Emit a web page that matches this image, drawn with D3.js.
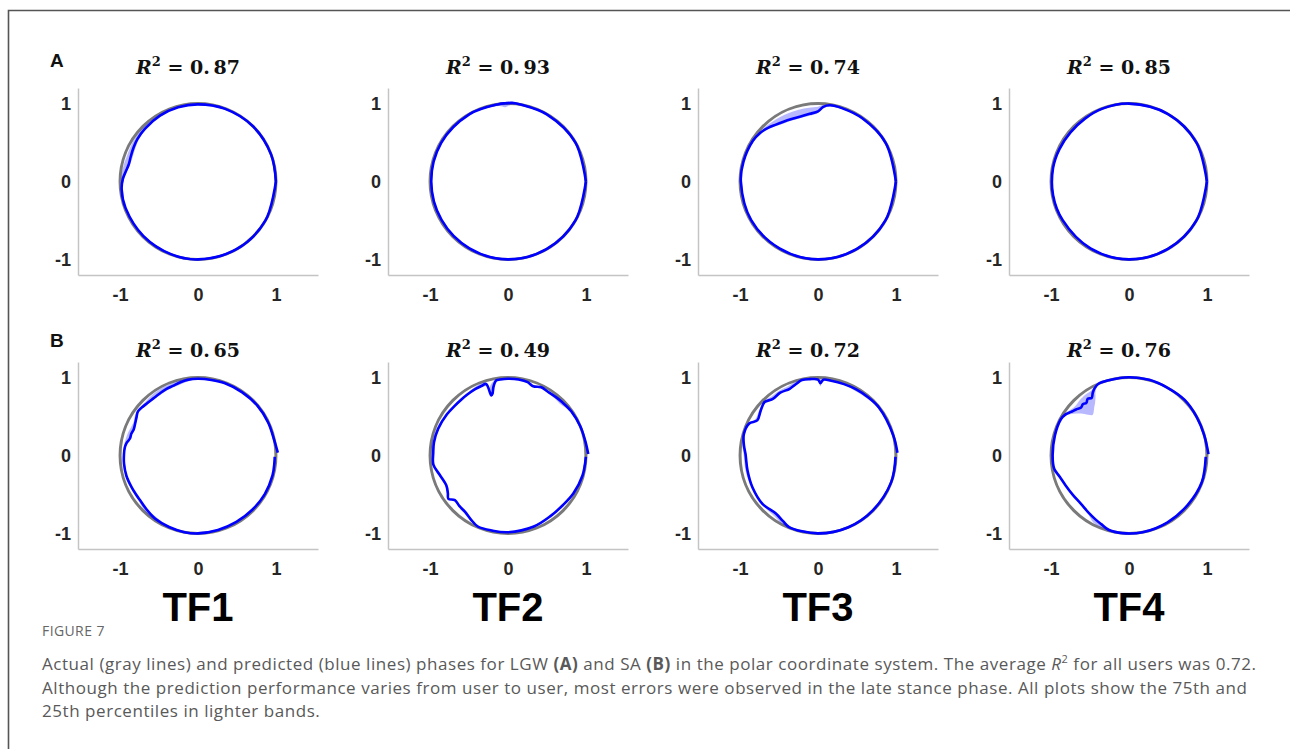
<!DOCTYPE html>
<html>
<head>
<meta charset="utf-8">
<script src="https://cdn.jsdelivr.net/npm/d3@7"></script>
<style>
  body { margin: 0; background: #fff; }
  svg { display: block; }
</style>
</head>
<body>
<svg id="fig" width="1290" height="749"></svg>
<script>
// Predicted gait phase in polar form.
// Each row: [phase angle (deg), median radius, 25th percentile radius, 75th percentile radius]

// LGW (row A)
const lgwTF1 = [
  [0, 1.00, 0.99, 1.01], [20, 1.00, 0.99, 1.01], [45, 1.00, 0.99, 1.01],
  [70, 0.995, 0.985, 1.005], [90, 0.99, 0.98, 1.00], [105, 0.985, 0.975, 0.995],
  [120, 0.975, 0.965, 0.99], [135, 0.96, 0.95, 0.985], [145, 0.95, 0.93, 0.98],
  [152, 0.935, 0.91, 0.975], [160, 0.92, 0.895, 0.97], [166, 0.915, 0.90, 0.975],
  [172, 0.935, 0.92, 0.98], [178, 0.965, 0.95, 0.985], [186, 0.985, 0.975, 0.995],
  [200, 0.99, 0.98, 1.00], [225, 0.99, 0.98, 1.00], [250, 0.995, 0.985, 1.005],
  [270, 1.00, 0.99, 1.01], [300, 1.00, 0.99, 1.01], [330, 1.00, 0.99, 1.01],
  [360, 1.00, 0.99, 1.01]
];
const lgwTF2 = [
  [0, 1.00, 0.99, 1.01], [30, 1.00, 0.99, 1.01], [60, 0.995, 0.985, 1.005],
  [80, 1.00, 0.99, 1.01], [87, 1.01, 0.99, 1.015], [92, 1.005, 0.955, 1.01],
  [97, 1.00, 0.975, 1.005], [120, 0.995, 0.985, 1.005], [150, 0.99, 0.98, 1.00],
  [180, 0.985, 0.975, 0.995], [210, 0.985, 0.975, 0.995], [240, 0.99, 0.98, 1.00],
  [270, 1.00, 0.99, 1.01], [300, 1.00, 0.99, 1.01], [330, 1.00, 0.99, 1.01],
  [360, 1.00, 0.99, 1.01]
];
const lgwTF3 = [
  [0, 1.00, 0.99, 1.01], [30, 1.00, 0.99, 1.01], [55, 0.99, 0.98, 1.00],
  [72, 0.99, 0.98, 1.00], [81, 0.99, 0.975, 1.00], [86, 0.96, 0.94, 0.985],
  [90, 0.90, 0.88, 0.96], [97, 0.875, 0.85, 0.955], [105, 0.865, 0.845, 0.955],
  [113, 0.87, 0.85, 0.955], [120, 0.885, 0.865, 0.96], [127, 0.91, 0.89, 0.965],
  [133, 0.94, 0.925, 0.975], [140, 0.97, 0.955, 0.985], [148, 0.985, 0.975, 0.995],
  [165, 0.99, 0.98, 1.00], [180, 0.99, 0.98, 1.00], [210, 0.99, 0.98, 1.00],
  [240, 0.99, 0.98, 1.00], [270, 1.00, 0.99, 1.01], [300, 1.00, 0.99, 1.01],
  [330, 1.00, 0.99, 1.01], [360, 1.00, 0.99, 1.01]
];
const lgwTF4 = [
  [0, 1.00, 0.99, 1.01], [30, 1.00, 0.99, 1.01], [60, 1.00, 0.99, 1.01],
  [90, 1.00, 0.99, 1.01], [110, 0.995, 0.985, 1.005], [125, 0.985, 0.975, 0.995],
  [140, 0.98, 0.97, 0.99], [155, 0.985, 0.975, 0.995], [170, 0.99, 0.98, 1.00],
  [190, 0.99, 0.98, 1.00], [210, 0.985, 0.975, 0.995], [240, 0.99, 0.98, 1.00],
  [270, 1.00, 0.99, 1.01], [300, 1.00, 0.99, 1.01], [330, 1.00, 0.99, 1.01],
  [360, 1.00, 0.99, 1.01]
];

// SA (row B)
const saTF1 = [
  [2, 1.025, 1.015, 1.03], [10, 1.00, 0.99, 1.01], [25, 0.995, 0.985, 1.005],
  [40, 0.995, 0.985, 1.005], [55, 0.99, 0.98, 1.00], [70, 0.99, 0.98, 1.00],
  [80, 0.985, 0.975, 0.995], [90, 0.985, 0.975, 0.995], [98, 0.98, 0.96, 0.99],
  [104, 0.965, 0.94, 0.99], [110, 0.95, 0.93, 0.985], [116, 0.945, 0.925, 0.985],
  [122, 0.935, 0.915, 0.98], [128, 0.93, 0.915, 0.975], [134, 0.935, 0.92, 0.965],
  [140, 0.95, 0.935, 0.965], [144, 0.955, 0.94, 0.965], [148, 0.93, 0.92, 0.955],
  [153, 0.905, 0.895, 0.93], [158, 0.89, 0.88, 0.935], [162, 0.90, 0.89, 0.945],
  [166, 0.90, 0.89, 0.95], [170, 0.93, 0.92, 0.955], [174, 0.945, 0.935, 0.96],
  [179, 0.95, 0.94, 0.96], [186, 0.955, 0.945, 0.965], [196, 0.955, 0.945, 0.965],
  [205, 0.945, 0.935, 0.955], [212, 0.94, 0.93, 0.955], [218, 0.94, 0.93, 0.96],
  [226, 0.955, 0.945, 0.985], [236, 0.98, 0.955, 1.00], [248, 0.99, 0.98, 1.00],
  [260, 1.00, 0.99, 1.01], [270, 1.00, 0.99, 1.01], [285, 0.99, 0.98, 1.00],
  [300, 0.985, 0.975, 0.995], [315, 0.985, 0.975, 0.995], [330, 0.99, 0.98, 1.00],
  [345, 0.99, 0.98, 1.00], [354, 0.985, 0.975, 0.995], [359, 0.985, 0.975, 0.995]
];
const saTF2 = [
  [1, 1.03, 1.02, 1.035], [10, 1.01, 1.00, 1.02], [22, 1.00, 0.99, 1.01],
  [35, 0.99, 0.98, 1.00], [45, 0.975, 0.94, 0.985], [50, 0.97, 0.945, 0.98],
  [58, 0.965, 0.955, 0.975], [64, 0.975, 0.965, 0.985], [70, 0.945, 0.935, 0.96],
  [75, 0.975, 0.965, 0.985], [82, 0.985, 0.975, 0.995], [90, 0.985, 0.97, 0.995],
  [96, 0.98, 0.97, 0.99], [99, 0.975, 0.965, 0.985], [102, 0.90, 0.85, 0.96],
  [104, 0.82, 0.80, 0.93], [105.5, 0.80, 0.79, 0.90], [107, 0.96, 0.93, 0.98],
  [111, 0.955, 0.94, 0.985], [116, 0.95, 0.94, 0.975], [124, 0.94, 0.93, 0.955],
  [130, 0.935, 0.925, 0.95], [137, 0.935, 0.925, 0.95], [146, 0.945, 0.935, 0.96],
  [159, 0.96, 0.95, 0.98], [170, 0.965, 0.955, 0.99], [178, 0.96, 0.95, 0.99],
  [187, 0.965, 0.955, 0.975], [196, 0.91, 0.90, 0.925], [206, 0.88, 0.87, 0.895],
  [212, 0.91, 0.90, 0.925], [216, 0.945, 0.935, 0.955], [220, 0.89, 0.88, 0.90],
  [226, 0.90, 0.89, 0.915], [233, 0.91, 0.90, 0.93], [240, 0.95, 0.94, 0.965],
  [247, 0.99, 0.98, 1.00], [258, 0.985, 0.975, 0.995], [270, 0.985, 0.975, 0.995],
  [290, 0.97, 0.96, 0.98], [305, 0.95, 0.94, 0.96], [318, 0.95, 0.94, 0.96],
  [330, 0.97, 0.96, 0.98], [345, 0.99, 0.98, 1.00], [359, 1.00, 0.99, 1.01]
];
const saTF3 = [
  [2, 1.02, 1.01, 1.025], [15, 1.00, 0.99, 1.01], [38, 0.995, 0.985, 1.005],
  [50, 0.985, 0.965, 0.995], [60, 0.98, 0.955, 0.99], [70, 0.975, 0.965, 0.985],
  [80, 0.975, 0.965, 0.985], [86, 0.975, 0.965, 0.985], [88, 0.93, 0.89, 0.98],
  [90, 0.975, 0.96, 0.985], [96, 0.985, 0.975, 0.995], [102, 0.99, 0.98, 1.00],
  [107, 0.96, 0.95, 0.985], [113, 0.93, 0.92, 0.97], [121, 0.94, 0.93, 0.97],
  [129, 0.93, 0.915, 0.965], [135, 0.97, 0.955, 0.98], [142, 0.934, 0.92, 0.955],
  [150, 0.90, 0.89, 0.93], [155, 0.974, 0.96, 0.985], [164, 0.99, 0.98, 1.00],
  [172, 0.96, 0.95, 0.98], [179, 0.93, 0.92, 0.955], [192, 0.925, 0.915, 0.95],
  [206, 0.935, 0.925, 0.95], [221, 0.945, 0.935, 0.955], [234, 0.92, 0.91, 0.96],
  [242, 0.955, 0.94, 0.99], [248, 0.99, 0.975, 1.00], [270, 1.00, 0.99, 1.01],
  [293, 1.00, 0.99, 1.01], [315, 0.995, 0.985, 1.005], [340, 1.00, 0.99, 1.01],
  [359, 0.995, 0.985, 1.005]
];
const saTF4 = [
  [1, 1.02, 1.01, 1.025], [15, 1.00, 0.99, 1.01], [30, 1.00, 0.99, 1.01],
  [45, 1.01, 1.00, 1.015], [60, 1.00, 0.99, 1.01], [75, 1.005, 0.995, 1.01],
  [90, 1.005, 0.995, 1.01], [105, 1.00, 0.99, 1.01], [113, 1.00, 0.99, 1.01],
  [117, 0.97, 0.94, 0.99], [120, 0.93, 0.86, 0.965], [123, 0.88, 0.80, 0.96],
  [126, 0.90, 0.76, 0.96], [129, 0.87, 0.72, 0.955], [132, 0.885, 0.70, 0.95],
  [135, 0.87, 0.74, 0.94], [139, 0.90, 0.82, 0.94], [143, 0.93, 0.89, 0.96],
  [147, 0.97, 0.95, 0.985], [152, 0.99, 0.98, 1.00], [165, 0.985, 0.975, 0.995],
  [180, 0.98, 0.97, 0.995], [190, 0.975, 0.965, 0.985], [197, 0.93, 0.92, 0.94],
  [205, 0.90, 0.89, 0.91], [215, 0.88, 0.87, 0.89], [225, 0.875, 0.865, 0.885],
  [235, 0.90, 0.89, 0.915], [242, 0.925, 0.915, 0.975], [248, 0.95, 0.94, 0.99],
  [255, 0.99, 0.98, 1.00], [265, 1.00, 0.99, 1.01], [280, 1.00, 0.99, 1.01],
  [300, 0.99, 0.98, 1.00], [320, 0.985, 0.975, 0.995], [340, 0.995, 0.985, 1.005],
  [359, 0.985, 0.975, 0.995]
];

const rowLetters = ["A", "B"];
const tfNames = ["TF1", "TF2", "TF3", "TF4"];
const r2LGW = ["0.87", "0.93", "0.74", "0.85"];
const r2SA = ["0.65", "0.49", "0.72", "0.76"];
const axisTicks = [-1, 0, 1];
const actualRadius = 1; // actual phase lies on the unit circle

const rows = [
  { letter: rowLetters[0], r2: r2LGW, series: [lgwTF1, lgwTF2, lgwTF3, lgwTF4] },
  { letter: rowLetters[1], r2: r2SA, series: [saTF1, saTF2, saTF3, saTF4] }
];

const svg = d3.select("#fig");

// outer frame
svg.append("path")
  .attr("d", "M1291,10.5 H8.5 V750")
  .attr("fill", "none")
  .attr("stroke", "#555")
  .attr("stroke-width", 1.6);

const panelW = 240, panelH = 187;
const colLeft = [78, 388, 698, 1009];
const rowTop = [88, 362];
const titleBase = [74, 357];
const letterBase = [67, 347];

const x = d3.scaleLinear().domain([-1.54, 1.54]).range([0, panelW]);
const y = d3.scaleLinear().domain([-1.2, 1.2]).range([panelH, 0]);
const rad = d => d * Math.PI / 180;

const medianLine = d3.line()
  .x(d => x(d[1] * Math.cos(rad(d[0]))))
  .y(d => y(d[1] * Math.sin(rad(d[0]))))
  .curve(d3.curveCatmullRom.alpha(0.5));

const band = d3.area()
  .x0(d => x(d[2] * Math.cos(rad(d[0]))))
  .y0(d => y(d[2] * Math.sin(rad(d[0]))))
  .x1(d => x(d[3] * Math.cos(rad(d[0]))))
  .y1(d => y(d[3] * Math.sin(rad(d[0]))))
  .curve(d3.curveCatmullRom.alpha(0.5));

rows.forEach((row, ri) => {
  svg.append("text")
    .attr("x", 50).attr("y", letterBase[ri])
    .style("font-family", "'Liberation Sans', Arial, sans-serif")
    .style("font-weight", "bold").style("font-size", "19px")
    .attr("fill", "#111")
    .text(row.letter);

  row.series.forEach((data, ci) => {
    const g = svg.append("g").attr("transform", `translate(${colLeft[ci]},${rowTop[ri]})`);

    // axes
    const xa = g.append("g").attr("transform", `translate(0,${panelH})`)
      .call(d3.axisBottom(x).tickValues(axisTicks).tickSize(0).tickPadding(13).tickFormat(d3.format("d")));
    const ya = g.append("g")
      .call(d3.axisLeft(y).tickValues(axisTicks).tickSize(0).tickPadding(7).tickFormat(d3.format("d")));
    [xa, ya].forEach(a => {
      a.select(".domain").attr("stroke", "#c4c4c4").attr("stroke-width", 1.5);
      a.selectAll("text")
        .style("font-family", "'Liberation Sans', Arial, sans-serif")
        .style("font-weight", "bold").style("font-size", "18px").style("fill", "#262626")
        .text(d => d < 0 ? "-" + Math.abs(d) : d);
    });

    // actual phase (gray circle)
    g.append("circle")
      .attr("cx", x(0)).attr("cy", y(0))
      .attr("r", x(actualRadius) - x(0))
      .attr("fill", "none").attr("stroke", "#7a7a7a").attr("stroke-width", 3);

    // percentile band
    g.append("path").attr("d", band(data))
      .attr("fill", "#0000ff").attr("fill-opacity", 0.28).attr("stroke", "none");

    // predicted phase
    g.append("path").attr("d", medianLine(data))
      .attr("fill", "none").attr("stroke", "#0000ff").attr("stroke-width", 2.6)
      .attr("stroke-linejoin", "round");

    // R^2 title
    const t = svg.append("text")
      .attr("x", colLeft[ci] + x(0) - 10).attr("y", titleBase[ri])
      .attr("text-anchor", "middle")
      .style("font-family", "'DejaVu Serif', serif")
      .style("font-weight", "bold").style("font-size", "19px").attr("fill", "#111");
    t.append("tspan").style("font-style", "italic").text("R");
    t.append("tspan").style("font-size", "13px").attr("dy", -8).text("2");
    t.append("tspan").attr("dy", 8).text(" = " + row.r2[ci].replace(".", ".\u2009"));

    if (ri === 1) {
      svg.append("text")
        .attr("x", colLeft[ci] + x(0)).attr("y", 621)
        .attr("text-anchor", "middle")
        .style("font-family", "'Liberation Sans Narrow', 'Arial Narrow', 'Liberation Sans', sans-serif")
        .style("font-weight", "bold").style("font-size", "40px").attr("fill", "#000")
        .text(tfNames[ci]);
    }
  });
});

// caption
const cap = svg.append("g")
  .style("font-family", "'Open Sans', sans-serif")
  .attr("fill", "#595959");
cap.append("text").attr("x", 42).attr("y", 636)
  .style("font-size", "14px").style("letter-spacing", "0.4px").attr("fill", "#666").text("FIGURE 7");

const capStyle = s => s.style("font-size", "17px").style("letter-spacing", "0.55px");

const l1 = cap.append("text").attr("x", 42).attr("y", 670).call(capStyle);
l1.append("tspan").text("Actual (gray lines) and predicted (blue lines) phases for LGW ");
l1.append("tspan").style("font-weight", "bold").text("(A)");
l1.append("tspan").text(" and SA ");
l1.append("tspan").style("font-weight", "bold").text("(B)");
l1.append("tspan").text(" in the polar coordinate system. The average ");
l1.append("tspan").style("font-style", "italic").text("R");
l1.append("tspan").style("font-size", "11px").attr("dy", -7).text("2");
l1.append("tspan").attr("dy", 7).text(" for all users was 0.72.");

cap.append("text").attr("x", 42).attr("y", 694).call(capStyle)
  .text("Although the prediction performance varies from user to user, most errors were observed in the late stance phase. All plots show the 75th and");
cap.append("text").attr("x", 42).attr("y", 717).call(capStyle)
  .text("25th percentiles in lighter bands.");
</script>
</body>
</html>
